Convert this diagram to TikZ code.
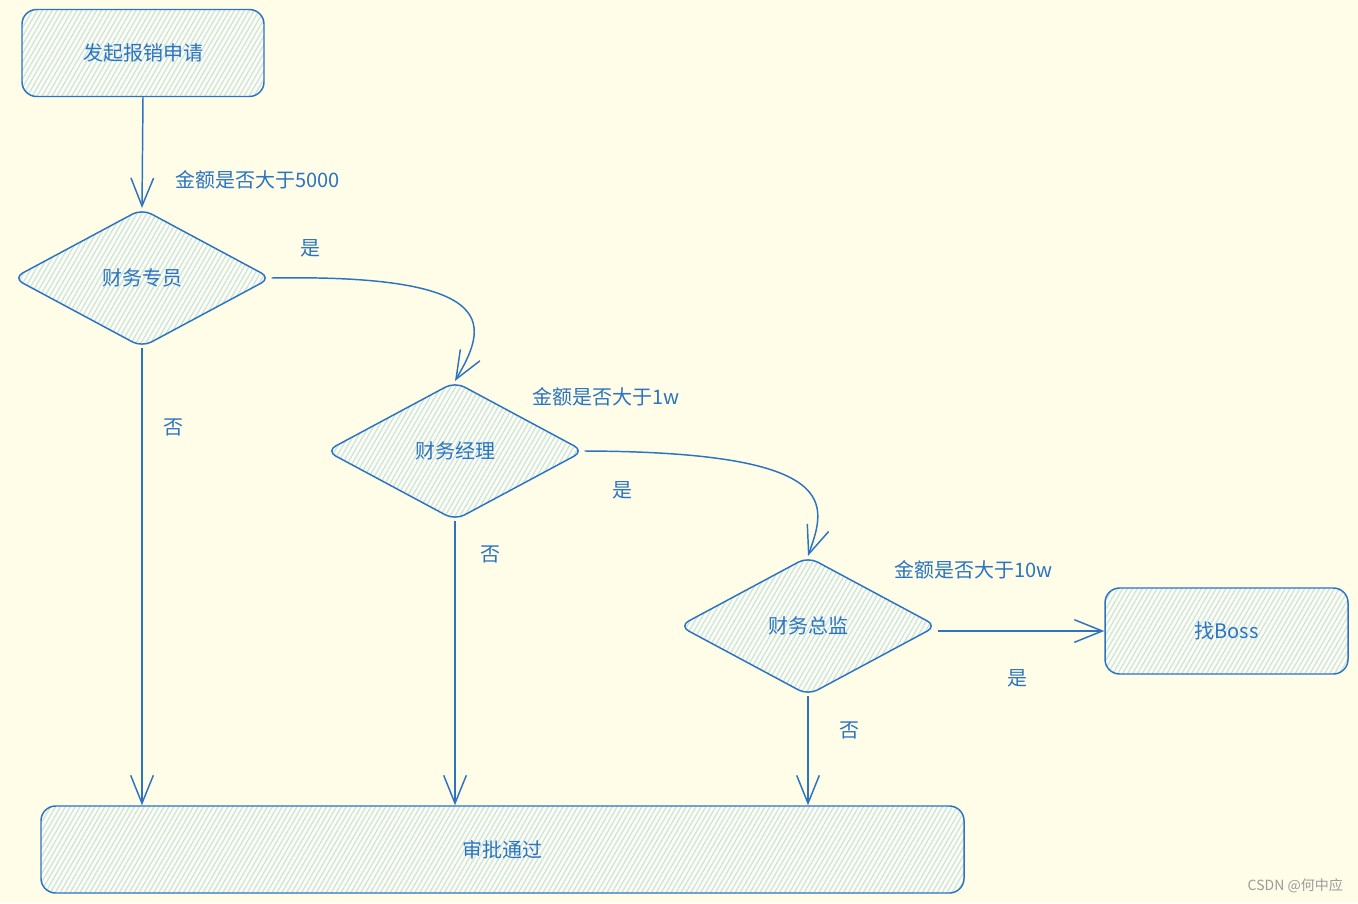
\documentclass[tikz,border=0pt]{standalone}
\usepackage{fontspec}
\newfontfamily\cjk{Noto Sans CJK SC}
\usetikzlibrary{shapes.geometric,arrows.meta,patterns.meta}
\definecolor{bg}{HTML}{FFFDE8}
\definecolor{stroke}{HTML}{2A74C2}
\definecolor{hatch}{HTML}{C4E2F4}
\definecolor{wm}{HTML}{9A9A9A}
\tikzset{
  shapefill/.style={pattern={Lines[angle=60,distance=3.2pt,line width=0.9pt]}, pattern color=hatch},
  boxnode/.style={draw=stroke, line width=1.1pt, rounded corners=11pt, shapefill,
    text=stroke, font=\cjk\fontsize{15pt}{18pt}\selectfont, inner sep=0pt},
  dianode/.style={diamond, draw=stroke, line width=1.1pt, rounded corners=8pt, shapefill,
    minimum width=193.5pt, minimum height=104pt, inner sep=0pt, aspect=1.86,
    text=stroke, font=\cjk\fontsize{15pt}{18pt}\selectfont},
  lbl/.style={text=stroke, font=\cjk\fontsize{15pt}{18pt}\selectfont, inner sep=0pt},
  arr/.style={draw=stroke, line width=1.1pt, -{Straight Barb[length=21pt,width=17pt,line width=1.1pt]}},
}
\begin{document}
\begin{tikzpicture}[x=0.75pt,y=-0.75pt]
\fill[bg] (0,0) rectangle (1358,903);
\useasboundingbox (0,0) rectangle (1358,903);

\node[boxnode, minimum width=181.5pt, minimum height=65.25pt] (start) at (143,53) {发起报销申请};
\node[dianode] (d1) at (142,278) {财务专员};
\node[dianode] (d2) at (455,451) {财务经理};
\node[dianode] (d3) at (808,626) {财务总监};
\node[boxnode, minimum width=182.25pt, minimum height=64.5pt] (boss) at (1226.5,631) {找Boss};
\node[boxnode, minimum width=692.25pt, minimum height=65.25pt] (ok) at (502.5,849.5) {审批通过};

\draw[arr] (start.south) -- (d1.north);
\draw[arr] (d1.east) .. controls (508,274) and (486,328) .. (d2.north);
\draw[arr] (d2.east) .. controls (846,452) and (826,505) .. (d3.north);
\draw[arr] (d1.south) -- (d1.south |- ok.north);
\draw[arr] (d2.south) -- (d2.south |- ok.north);
\draw[arr] (d3.south) -- (d3.south |- ok.north);
\draw[arr] (boss.west -| d3.east) -- (boss.west);

\node[lbl, anchor=west] (q1) at (175,180) {金额是否大于5000};
\node[lbl] (y1) at (310,248) {是};
\node[lbl] (n1) at (173,427) {否};
\node[lbl, anchor=west] (q2) at (532,397) {金额是否大于1w};
\node[lbl] (y2) at (622,490) {是};
\node[lbl] (n2) at (490,554) {否};
\node[lbl, anchor=west] (q3) at (894,570) {金额是否大于10w};
\node[lbl] (y3) at (1017,678) {是};
\node[lbl] (n3) at (849,730) {否};
\node[text=wm, font=\cjk\fontsize{10.5pt}{12pt}\selectfont, anchor=east, inner sep=0pt] (wmk) at (1343,886) {CSDN @何中应};
\end{tikzpicture}
\end{document}
